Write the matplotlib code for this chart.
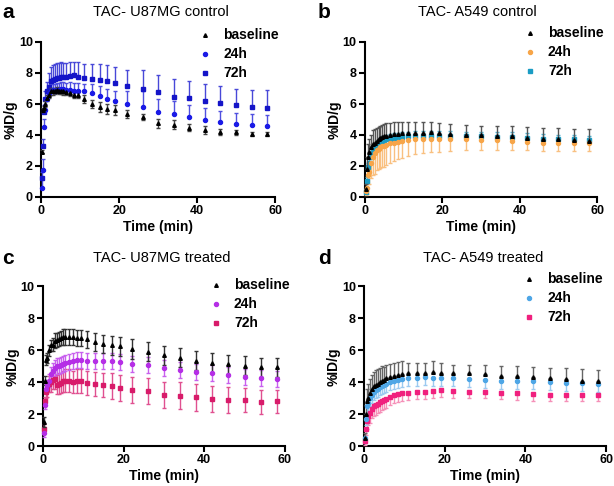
import matplotlib
matplotlib.use("Agg")
import matplotlib.pyplot as plt
import numpy as np

plt.rcParams['font.family'] = ['Liberation Sans', 'DejaVu Sans']

# frame times (min)
time_min = [0.25, 0.5, 0.75, 1, 1.5, 2, 2.5, 3, 3.5, 4, 4.5, 5, 5.5, 6.5, 7.5, 8.5, 9.5,
            11, 13, 15, 17, 19, 22, 26, 30, 34, 38, 42, 46, 50, 54, 58]

# ---- panel a: U87MG control
a_base = [2.9, 5.6, 5.7, 6.0, 6.4, 6.6, 6.8, 6.8, 6.85, 6.9, 6.85, 6.85, 6.8, 6.75, 6.7, 6.6, 6.55,
          6.3, 6.0, 5.8, 5.67, 5.6, 5.35, 5.14, 4.75, 4.65, 4.47, 4.33, 4.2, 4.17, 4.05, 4.05]
a_base_err = [0.1, 0.15, 0.15, 0.2, 0.2, 0.2, 0.2, 0.2, 0.2, 0.2, 0.2, 0.2, 0.2, 0.2, 0.2, 0.2, 0.2,
              0.25, 0.25, 0.3, 0.3, 0.3, 0.25, 0.2, 0.3, 0.3, 0.25, 0.25, 0.2, 0.15, 0.15, 0.1]
a_24 = [0.6, 1.75, 4.5, 5.6, 6.3, 6.7, 6.85, 6.9, 6.85, 6.9, 6.9, 6.95, 6.95, 6.9, 6.9, 6.85, 6.85,
        6.8, 6.68, 6.53, 6.3, 6.2, 6.0, 5.8, 5.48, 5.33, 5.14, 4.97, 4.84, 4.71, 4.63, 4.58]
a_24_up = [0.7, 0.7, 0.5, 0.4, 0.4, 0.4, 0.4, 0.4, 0.4, 0.45, 0.45, 0.45, 0.45, 0.45, 0.5, 0.5, 0.5,
           0.5, 0.6, 0.65, 0.65, 0.65, 0.8, 1.0, 0.85, 0.85, 0.8, 0.75, 0.7, 0.7, 0.7, 0.67]
a_72 = [1.2, 3.25, 5.5, 6.3, 6.8, 7.1, 7.45, 7.55, 7.6, 7.65, 7.65, 7.7, 7.7, 7.75, 7.8, 7.85, 7.75,
        7.64, 7.6, 7.54, 7.45, 7.32, 7.15, 6.96, 6.77, 6.47, 6.4, 6.2, 6.08, 5.93, 5.82, 5.76]
a_72_up = [0.4, 0.45, 0.4, 0.5, 0.6, 0.9, 0.9, 0.95, 0.95, 1.0, 1.0, 1.0, 0.95, 0.9, 0.9, 0.85, 0.95,
           0.95, 0.95, 1.0, 1.05, 1.05, 1.05, 1.2, 1.1, 1.15, 1.1, 1.1, 1.1, 1.05, 1.05, 1.1]

# ---- panel b: A549 control
b_base = [0.5, 1.8, 2.6, 2.9, 3.2, 3.4, 3.5, 3.6, 3.7, 3.8, 3.85, 3.9, 3.95, 4.0, 4.05, 4.05, 4.1,
          4.1, 4.1, 4.1, 4.15, 4.1, 4.05, 4.0, 4.0, 3.9, 3.9, 3.8, 3.75, 3.7, 3.65, 3.6]
b_base_up = [0.3, 0.8, 0.8, 0.8, 0.8, 0.9, 0.9, 0.85, 0.8, 0.8, 0.8, 0.8, 0.8, 0.75, 0.75, 0.75, 0.75,
             0.7, 0.7, 0.7, 0.65, 0.65, 0.65, 0.65, 0.6, 0.65, 0.65, 0.7, 0.7, 0.75, 0.75, 0.75]
b_24 = [0.4, 0.6, 1.4, 1.6, 2.2, 2.6, 2.8, 3.0, 3.1, 3.2, 3.25, 3.3, 3.35, 3.45, 3.5, 3.55, 3.6,
        3.65, 3.7, 3.75, 3.75, 3.75, 3.7, 3.7, 3.65, 3.65, 3.6, 3.55, 3.5, 3.45, 3.45, 3.45]
b_24_lo = [0.3, 0.4, 0.6, 0.8, 1.0, 1.2, 1.3, 1.3, 1.3, 1.35, 1.35, 1.35, 1.3, 1.25, 1.2, 1.1, 1.1,
           1.0, 0.95, 0.9, 0.85, 0.85, 0.75, 0.7, 0.65, 0.6, 0.6, 0.55, 0.55, 0.5, 0.5, 0.5]
b_72 = [0.3, 1.0, 1.9, 2.2, 2.6, 2.9, 3.1, 3.3, 3.4, 3.5, 3.6, 3.65, 3.7, 3.75, 3.8, 3.8, 3.85,
        3.9, 3.95, 3.95, 3.95, 3.95, 3.95, 3.9, 3.9, 3.85, 3.85, 3.8, 3.75, 3.7, 3.7, 3.65]
b_72_up = [0.2, 0.25, 0.25, 0.25, 0.3, 0.3, 0.3, 0.3, 0.3, 0.3, 0.3, 0.3, 0.3, 0.3, 0.3, 0.3, 0.3,
           0.3, 0.3, 0.3, 0.3, 0.3, 0.3, 0.3, 0.3, 0.3, 0.3, 0.3, 0.3, 0.3, 0.3, 0.3]

# ---- panel c: U87MG treated
c_base = [1.5, 4.1, 5.4, 5.5, 6.0, 6.3, 6.35, 6.6, 6.65, 6.7, 6.75, 6.8, 6.8, 6.8, 6.8, 6.75, 6.75,
          6.67, 6.52, 6.4, 6.3, 6.25, 6.08, 5.9, 5.67, 5.52, 5.35, 5.2, 5.12, 5.04, 4.94, 4.92]
c_base_err = [0.3, 0.3, 0.3, 0.3, 0.35, 0.35, 0.4, 0.45, 0.45, 0.45, 0.45, 0.5, 0.5, 0.5, 0.5, 0.5, 0.5,
              0.55, 0.55, 0.55, 0.6, 0.6, 0.6, 0.6, 0.6, 0.6, 0.6, 0.6, 0.6, 0.6, 0.6, 0.6]
c_24 = [0.8, 2.6, 3.6, 3.8, 4.1, 4.5, 4.7, 4.9, 5.0, 5.0, 5.1, 5.15, 5.2, 5.25, 5.3, 5.4, 5.4,
        5.35, 5.3, 5.3, 5.3, 5.25, 5.15, 5.05, 4.9, 4.75, 4.65, 4.55, 4.45, 4.35, 4.25, 4.2]
c_24_err = [0.2, 0.3, 0.3, 0.35, 0.4, 0.45, 0.5, 0.5, 0.5, 0.5, 0.5, 0.5, 0.5, 0.5, 0.5, 0.5, 0.5,
            0.5, 0.5, 0.5, 0.5, 0.5, 0.5, 0.5, 0.5, 0.5, 0.5, 0.5, 0.5, 0.5, 0.5, 0.5]
c_72 = [1.1, 2.8, 3.4, 3.6, 3.9, 4.0, 4.15, 4.2, 3.85, 3.9, 3.95, 4.05, 4.1, 4.1, 4.0, 4.05, 4.1,
        3.95, 3.9, 3.8, 3.75, 3.65, 3.5, 3.45, 3.2, 3.15, 3.05, 2.95, 2.9, 2.9, 2.75, 2.8]
c_72_err = [0.3, 0.3, 0.4, 0.5, 0.5, 0.6, 0.6, 0.6, 0.6, 0.65, 0.65, 0.65, 0.7, 0.7, 0.7, 0.75, 0.75,
            0.75, 0.75, 0.75, 0.8, 0.8, 0.8, 0.8, 0.8, 0.85, 0.85, 0.8, 0.8, 0.75, 0.75, 0.7]

# ---- panel d: A549 treated
d_base = [0.5, 2.0, 2.8, 3.0, 3.3, 3.55, 3.75, 3.85, 3.9, 4.0, 4.1, 4.15, 4.25, 4.35, 4.4, 4.45, 4.5,
          4.55, 4.6, 4.6, 4.65, 4.6, 4.6, 4.55, 4.5, 4.4, 4.4, 4.35, 4.25, 4.2, 4.1, 4.1]
d_base_up = [0.3, 0.6, 0.8, 0.9, 0.9, 0.9, 0.9, 0.9, 0.9, 0.9, 0.9, 0.8, 0.8, 0.8, 0.8, 0.8, 0.8,
             0.65, 0.6, 0.6, 0.65, 0.6, 0.5, 0.55, 0.55, 0.6, 0.6, 0.6, 0.65, 0.7, 0.7, 0.65]
d_24 = [0.5, 1.7, 2.5, 2.7, 3.0, 3.2, 3.4, 3.5, 3.6, 3.7, 3.75, 3.8, 3.9, 4.0, 4.05, 4.15, 4.2,
        4.25, 4.25, 4.3, 4.25, 4.25, 4.25, 4.2, 4.15, 4.1, 4.1, 4.05, 4.0, 3.95, 3.95, 3.9]
d_24_lo = [0.3, 0.4, 0.5, 0.5, 0.5, 0.5, 0.5, 0.5, 0.5, 0.5, 0.5, 0.5, 0.5, 0.5, 0.5, 0.5, 0.5,
           0.5, 0.5, 0.5, 0.5, 0.5, 0.5, 0.5, 0.5, 0.5, 0.5, 0.5, 0.5, 0.5, 0.5, 0.5]
d_72 = [0.3, 1.1, 1.55, 1.9, 2.05, 2.35, 2.5, 2.55, 2.65, 2.75, 2.85, 2.9, 2.95, 3.1, 3.2, 3.25, 3.3,
        3.35, 3.4, 3.4, 3.45, 3.5, 3.45, 3.4, 3.4, 3.35, 3.3, 3.25, 3.2, 3.2, 3.2, 3.2]
d_72_lo = [0.2, 0.4, 0.5, 0.55, 0.6, 0.6, 0.6, 0.6, 0.6, 0.6, 0.6, 0.55, 0.55, 0.55, 0.5, 0.5, 0.5,
           0.45, 0.45, 0.45, 0.45, 0.45, 0.45, 0.4, 0.4, 0.4, 0.4, 0.4, 0.4, 0.4, 0.4, 0.4]

labels = ["baseline", "24h", "72h"]
titles = ["TAC- U87MG control", "TAC- A549 control", "TAC- U87MG treated", "TAC- A549 treated"]
letters = ["a", "b", "c", "d"]

zeros = [0] * len(time_min)
# (values, lower err, upper err, marker, color, errcolor)
panels = [
    [(a_base, a_base_err, a_base_err, "^", "black", "#444444"),
     (a_24, zeros, a_24_up, "o", "#1a1ae6", "#5050e0"),
     (a_72, zeros, a_72_up, "s", "#1414c8", "#4848d8")],
    [(b_base, zeros, b_base_up, "^", "black", "#555555"),
     (b_24, b_24_lo, zeros, "o", "#f7a548", "#f9c080"),
     (b_72, zeros, b_72_up, "s", "#1a9cc4", "#50b4d4")],
    [(c_base, c_base_err, c_base_err, "^", "black", "#333333"),
     (c_24, c_24_err, c_24_err, "o", "#b52ee6", "#c860ee"),
     (c_72, c_72_err, c_72_err, "s", "#d81b6a", "#e05090")],
    [(d_base, zeros, d_base_up, "^", "black", "#666666"),
     (d_24, d_24_lo, zeros, "o", "#4ea6e6", "#9ccaf0"),
     (d_72, d_72_lo, zeros, "s", "#f0207e", "#f590b8")],
]

axes_pos = [
    [0.067, 0.595, 0.381, 0.319],
    [0.5945, 0.595, 0.378, 0.319],
    [0.070, 0.082, 0.394, 0.329],
    [0.593, 0.082, 0.394, 0.329],
]
title_xy = [(161, 12), (477, 12), (162, 258), (483, 258)]
letter_xy = [(2, 12), (318, 12), (2, 258), (318, 258)]
legend_xy = [(205, 35), (530, 33), (216, 285), (529, 279)]

fig = plt.figure(figsize=(6.14, 4.86), dpi=100)
W, H = 614, 486

for i, series in enumerate(panels):
    ax = fig.add_axes(axes_pos[i])
    for j, (vals, lo, up, mk, col, ecol) in enumerate(series):
        ms = 2.6 if mk == "^" else 2.9
        ax.errorbar(time_min, vals, yerr=[lo, up], fmt=mk, color=col, ecolor=ecol,
                    markersize=ms, elinewidth=1, capsize=1.5, capthick=1, clip_on=False, zorder=3 - j * 0.1)
        lx, ly = legend_xy[i]
        yy = ly + j * 19
        fig.lines.append(plt.Line2D([lx / W], [1 - yy / H], marker=mk, color=col, markersize=ms,
                                    linestyle="none", transform=fig.transFigure))
        fig.text((lx + 18) / W, 1 - yy / H, labels[j], fontsize=10, fontweight="bold", va="center")
    ax.set_xlim(0, 60)
    ax.set_ylim(0, 10)
    ax.set_xticks([0, 20, 40, 60])
    ax.set_yticks([0, 2, 4, 6, 8, 10])
    ax.spines["top"].set_visible(False)
    ax.spines["right"].set_visible(False)
    ax.spines["left"].set_linewidth(1.5)
    ax.spines["bottom"].set_linewidth(1.5)
    ax.tick_params(width=1.5, length=4, labelsize=9, pad=2)
    for lab in ax.get_xticklabels() + ax.get_yticklabels():
        lab.set_fontweight("bold")
    ax.set_xlabel("Time (min)", fontsize=10, fontweight="bold", labelpad=2)
    ax.set_ylabel("%ID/g", fontsize=10, fontweight="bold", labelpad=1)
    tx, ty = title_xy[i]
    fig.text(tx / W, 1 - ty / H, titles[i], fontsize=10.5, ha="center", va="center")
    lx, ly = letter_xy[i]
    fig.text(lx / W, 1 - ly / H, letters[i], fontsize=15, fontweight="bold", va="center")

fig.savefig("out.png", dpi=100)
